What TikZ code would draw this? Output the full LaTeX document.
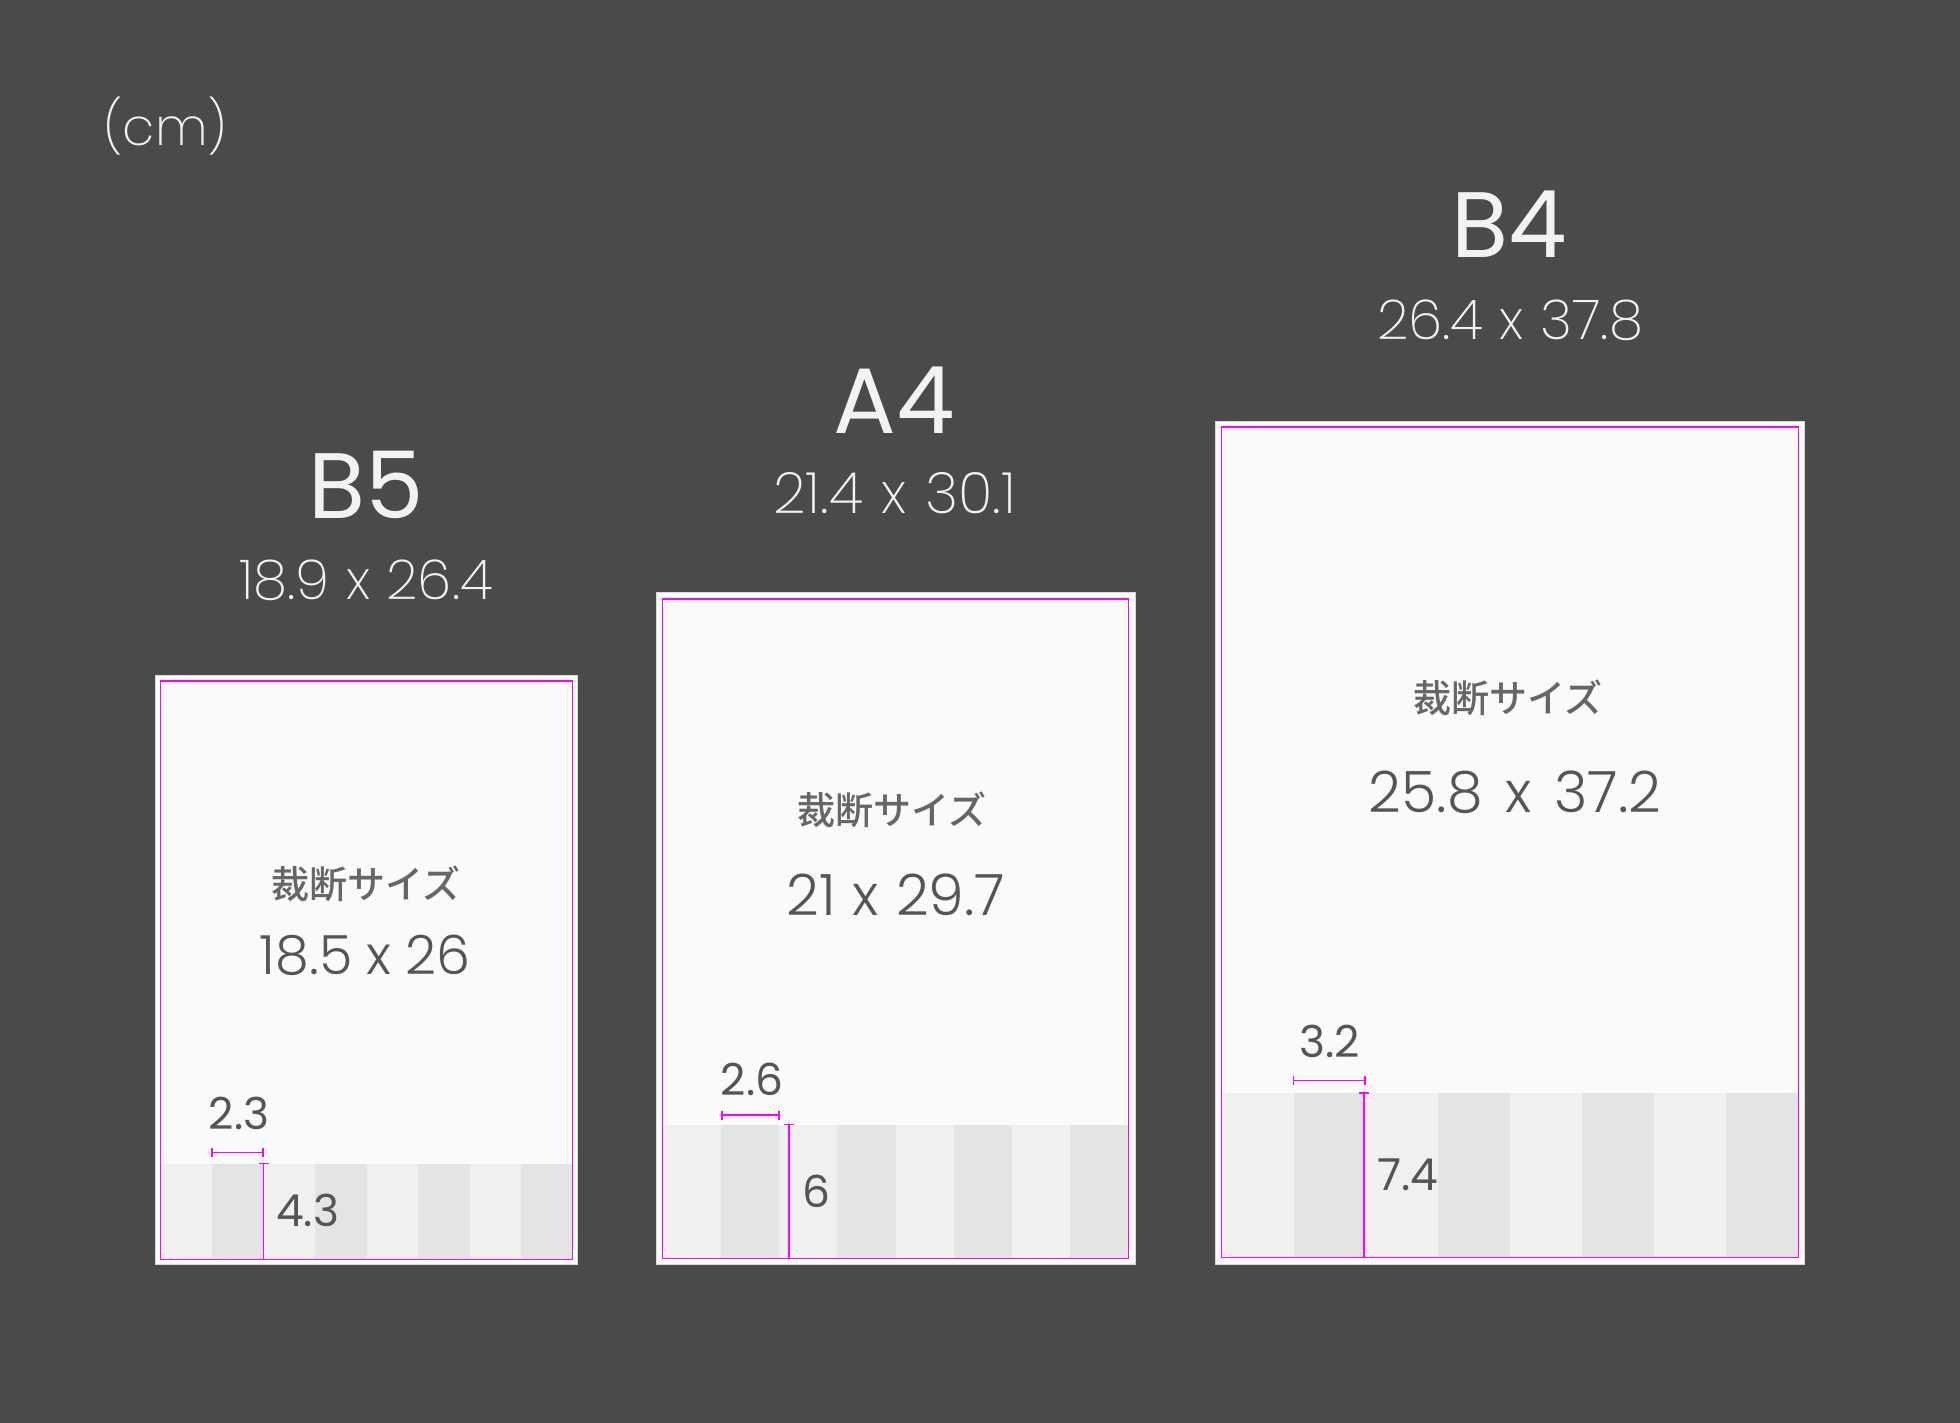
\documentclass[tikz,border=0pt]{standalone}
\usepackage{fontspec}
\setmainfont{Poppins}
\newfontfamily\poplight{Poppins ExtraLight}
\newfontfamily\popmid{Poppins Light}
\newfontfamily\cjk{Noto Sans CJK JP Medium}
\definecolor{bg}{HTML}{4A4A4A}
\definecolor{titlecol}{HTML}{F2F2F2}
\definecolor{papercol}{HTML}{FAFAFA}
\definecolor{paperedge}{HTML}{D8D8D8}
\definecolor{trimcol}{HTML}{FF00FF}
\definecolor{stripelight}{HTML}{F0F0F0}
\definecolor{stripedark}{HTML}{E4E4E4}
\definecolor{innertext}{HTML}{555555}
\definecolor{jptext}{HTML}{666666}
\newcommand{\tms}[1]{\hspace{#1em}x\hspace{#1em}}
\tikzset{
  title/.style={inner sep=0pt, text=titlecol, font=\fontsize{93}{100}\selectfont},
  subtitle/.style={inner sep=0pt, text=titlecol, font=\poplight\fontsize{#1}{60}\selectfont},
  subtitle/.default=55,
  jplabel/.style={inner sep=0pt, text=jptext, font=\cjk\fontsize{38}{40}\selectfont},
  sizelabel/.style={inner sep=0pt, text=innertext, font=\popmid\fontsize{#1}{60}\selectfont},
  sizelabel/.default=54,
  dimlabel/.style={inner sep=0pt, text=innertext, font=\fontsize{44}{48}\selectfont},
  paper/.style={draw=paperedge, fill=white, line width=1pt},
  trim/.style={draw=trimcol, line width=1.5pt},
  dimline/.style={draw=trimcol, line width=1.3pt},
}
\begin{document}
\begin{tikzpicture}[x=1pt,y=-1pt]
\fill[bg] (0,0) rectangle (1960,1423);
\useasboundingbox (0,0) rectangle (1960,1423);

\node[anchor=west, inner sep=0pt, text=titlecol, font=\poplight\fontsize{52}{56}\selectfont] (cm) at (103,126.5) {(cm)};

% ---------- B5 ----------
\draw[paper] (155.5,675) rectangle (577,1264);
\fill[papercol] (160.5,681) rectangle (572.5,1259.5);
\fill[stripelight] (160.5,1163.5) rectangle (572.5,1259.5);
\foreach \i in {1,3,5,7} \fill[stripedark] ({160.5+\i*51.5},1163.5) rectangle ++(51.5,96);
\draw[trim] (160.5,681) rectangle (572.5,1259.5);
\coordinate (b5h1) at (212,1152.5);
\coordinate (b5h2) at (263,1152.5);
\coordinate (b5v1) at (263.5,1163.5);
\coordinate (b5v2) at (263.5,1259.5);
\draw[dimline] (b5h1) -- (b5h2);
\draw[dimline] ([yshift=-4.5pt]b5h1) -- ([yshift=4.5pt]b5h1);
\draw[dimline] ([yshift=-4.5pt]b5h2) -- ([yshift=4.5pt]b5h2);
\draw[dimline] (b5v1) -- (b5v2);
\draw[dimline] ([xshift=-5pt]b5v1) -- ([xshift=5pt]b5v1);
\node[dimlabel] (b5w) at (239,1113) {2.3};
\node[dimlabel] (b5d) at (307.5,1210) {4.3};
\node[jplabel] (b5jp) at (366,883.5) {裁断サイズ};
\node[sizelabel] (b5trim) at (365,955.5) {18.5\tms{0.26}26};
\node[title] (b5t) at (366,485) {B5};
\node[subtitle] (b5s) at (366,580) {18.9\tms{0.3}26.4};

% ---------- A4 ----------
\draw[paper] (656.5,592.5) rectangle (1135,1264);
\fill[papercol] (662.5,599) rectangle (1128.7,1258.6);
\fill[stripelight] (662.5,1124.5) rectangle (1128.7,1258.6);
\foreach \i in {1,3,5,7} \fill[stripedark] ({662.5+\i*58.275},1124.5) rectangle ++(58.275,134.1);
\draw[trim] (662.5,599) rectangle (1128.7,1258.6);
\coordinate (a4h1) at (722,1115);
\coordinate (a4h2) at (779,1115);
\coordinate (a4v1) at (789,1124.5);
\coordinate (a4v2) at (789,1258.6);
\draw[dimline] (a4h1) -- (a4h2);
\draw[dimline] ([yshift=-4.5pt]a4h1) -- ([yshift=4.5pt]a4h1);
\draw[dimline] ([yshift=-4.5pt]a4h2) -- ([yshift=4.5pt]a4h2);
\draw[dimline] (a4v1) -- (a4v2);
\draw[dimline] ([xshift=-5pt]a4v1) -- ([xshift=5pt]a4v1);
\node[dimlabel] (a4w) at (752,1079) {2.6};
\node[dimlabel] (a4d) at (816,1191.5) {6};
\node[jplabel] (a4jp) at (891.7,810) {裁断サイズ};
\node[sizelabel=57] (a4trim) at (895.8,894.7) {21\tms{0.3}29.7};
\node[title] (a4t) at (894,400.5) {A4};
\node[subtitle=57] (a4s) at (894.7,493.3) {21.4\tms{0.33}30.1};

% ---------- B4 ----------
\draw[paper] (1215,421) rectangle (1804,1264);
\fill[papercol] (1221.5,427) rectangle (1798.3,1257.7);
\fill[stripelight] (1221.5,1093) rectangle (1798.3,1257.7);
\foreach \i in {1,3,5,7} \fill[stripedark] ({1221.5+\i*72.1},1093) rectangle ++(72.1,164.7);
\draw[trim] (1221.5,427) rectangle (1798.3,1257.7);
\coordinate (b4h1) at (1293.6,1080.7);
\coordinate (b4h2) at (1365,1080.7);
\coordinate (b4v1) at (1364,1093);
\coordinate (b4v2) at (1364,1257.7);
\draw[dimline] (b4h1) -- (b4h2);
\draw[dimline] ([yshift=-4.5pt]b4h1) -- ([yshift=4.5pt]b4h1);
\draw[dimline] ([yshift=-4.5pt]b4h2) -- ([yshift=4.5pt]b4h2);
\draw[dimline] (b4v1) -- (b4v2);
\draw[dimline] ([xshift=-5pt]b4v1) -- ([xshift=5pt]b4v1);
\node[dimlabel] (b4w) at (1329.5,1041.4) {3.2};
\node[dimlabel] (b4d) at (1407.5,1175) {7.4};
\node[jplabel] (b4jp) at (1508.4,697.5) {裁断サイズ};
\node[sizelabel=57] (b4trim) at (1515,792.7) {25.8\tms{0.4}37.2};
\node[title] (b4t) at (1509.5,224) {B4};
\node[subtitle] (b4s) at (1510,320.5) {26.4\tms{0.3}37.8};
\end{tikzpicture}
\end{document}
